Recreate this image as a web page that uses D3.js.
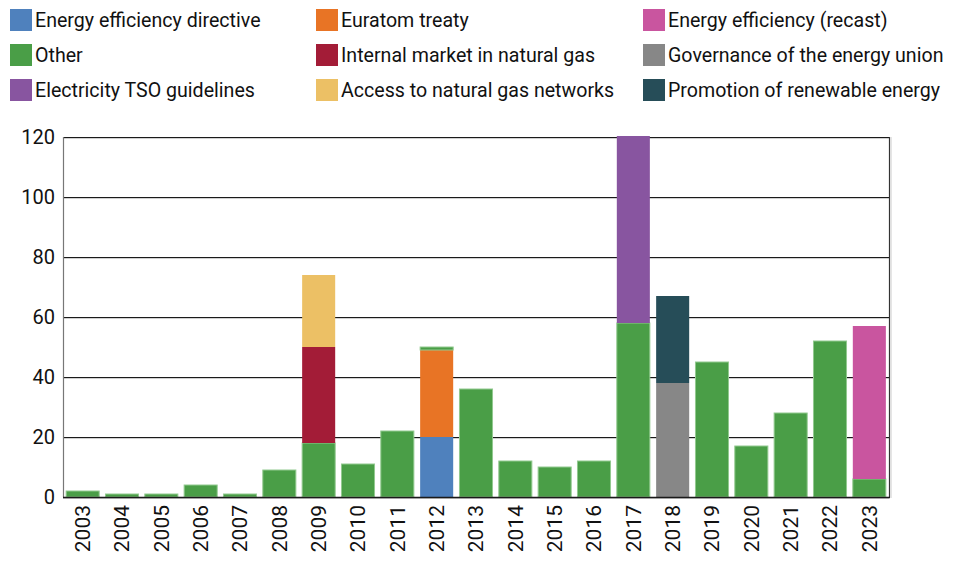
<!DOCTYPE html>
<html>
<head>
    <meta charset="UTF-8">
    <style>
        * { margin: 0; padding: 0; }
        body { background: #fff; width: 954px; height: 563px; overflow: hidden; }
        #chart { display: block; font-family: "Roboto", sans-serif; }
        .legend text { font-size: 19.6px; fill: #111; }
        .ytick text { font-size: 20px; fill: #111; }
        .xlab { font-size: 21px; fill: #111; }
    </style>
    <script src="https://d3js.org/d3.v7.min.js"></script>
    <title>Chart</title>
</head>
<body>
<svg id="chart" width="954" height="563"></svg>
<script>
    // years on the x axis
    var years = ["2003","2004","2005","2006","2007","2008","2009","2010","2011","2012",
                 "2013","2014","2015","2016","2017","2018","2019","2020","2021","2022","2023"];

    // one array per series, one value per year
    var eed       = [0,0,0,0,0,0, 0,0,0,20, 0,0,0,0, 0,0, 0,0,0,0, 0];
    var euratom   = [0,0,0,0,0,0, 0,0,0,29, 0,0,0,0, 0,0, 0,0,0,0, 0];
    var governance= [0,0,0,0,0,0, 0,0,0,0,  0,0,0,0, 0,38, 0,0,0,0, 0];
    var other     = [2,1,1,4,1,9,18,11,22,1,36,12,10,12,58,0,45,17,28,52, 6];
    var internal  = [0,0,0,0,0,0,32,0,0,0,  0,0,0,0, 0,0, 0,0,0,0, 0];
    var access    = [0,0,0,0,0,0,24,0,0,0,  0,0,0,0, 0,0, 0,0,0,0, 0];
    var tso       = [0,0,0,0,0,0, 0,0,0,0,  0,0,0,0,62,0, 0,0,0,0, 0];
    var promotion = [0,0,0,0,0,0, 0,0,0,0,  0,0,0,0, 0,29, 0,0,0,0, 0];
    var recast    = [0,0,0,0,0,0, 0,0,0,0,  0,0,0,0, 0,0, 0,0,0,0,51];

    var yTicks = [0, 20, 40, 60, 80, 100, 120];

    // stacking order (bottom to top)
    var series = [
        {key: "eed",        name: "Energy efficiency directive",   color: "#4f81bd", values: eed},
        {key: "euratom",    name: "Euratom treaty",                color: "#e87425", values: euratom},
        {key: "governance", name: "Governance of the energy union",color: "#878787", values: governance},
        {key: "other",      name: "Other",                         color: "#4a9e47", values: other},
        {key: "internal",   name: "Internal market in natural gas",color: "#a31c37", values: internal},
        {key: "access",     name: "Access to natural gas networks",color: "#ecc065", values: access},
        {key: "tso",        name: "Electricity TSO guidelines",    color: "#8855a0", values: tso},
        {key: "promotion",  name: "Promotion of renewable energy", color: "#264d58", values: promotion},
        {key: "recast",     name: "Energy efficiency (recast)",    color: "#c9559f", values: recast}
    ];

    // legend order as shown, column by column
    var legendCols = [
        ["eed", "other", "tso"],
        ["euratom", "internal", "access"],
        ["recast", "governance", "promotion"]
    ];

    var svg = d3.select("#chart");
    var mLeft = 63, mRight = 889, mTop = 137, mBottom = 497;

    var table = years.map(function (yr, i) {
        var row = {year: yr};
        series.forEach(function (s) { row[s.key] = s.values[i]; });
        return row;
    });

    var stack = d3.stack().keys(series.map(function (s) { return s.key; }));
    var stacked = stack(table);

    var x = d3.scaleBand().domain(years).range([mLeft, mRight])
        .paddingInner(0.16).paddingOuter(0.08);
    var y = d3.scaleLinear().domain([0, 120]).range([mBottom, mTop]);

    // grid lines
    var grid = svg.append("g");
    grid.selectAll("line.shadow")
        .data(yTicks)
        .enter().append("line")
        .attr("x1", mLeft).attr("x2", mRight)
        .attr("y1", function (d) { return y(d) + 1.5; })
        .attr("y2", function (d) { return y(d) + 1.5; })
        .attr("stroke", "#d0d0d0").attr("stroke-width", 1);
    grid.selectAll("line.main")
        .data(yTicks)
        .enter().append("line")
        .attr("x1", mLeft).attr("x2", mRight)
        .attr("y1", function (d) { return y(d) + 0.5; })
        .attr("y2", function (d) { return y(d) + 0.5; })
        .attr("stroke", "#1a1a1a").attr("stroke-width", 1.2);

    // frame
    svg.append("line")
        .attr("x1", mLeft + 0.5).attr("x2", mLeft + 0.5)
        .attr("y1", mTop).attr("y2", mBottom)
        .attr("stroke", "#777").attr("stroke-width", 1.2);
    svg.append("line")
        .attr("x1", mRight + 0.5).attr("x2", mRight + 0.5)
        .attr("y1", mTop).attr("y2", mBottom)
        .attr("stroke", "#333").attr("stroke-width", 1.2);
    svg.append("line")
        .attr("x1", mRight + 2).attr("x2", mRight + 2)
        .attr("y1", mTop).attr("y2", mBottom + 1)
        .attr("stroke", "#ddd").attr("stroke-width", 1.5);

    // bars
    var colorOf = {};
    series.forEach(function (s) { colorOf[s.key] = s.color; });

    svg.append("g").selectAll("g")
        .data(stacked)
        .enter().append("g")
        .attr("fill", function (d) { return colorOf[d.key]; })
        .attr("stroke", function (d) { return d.key === "other" ? "#92c98f" : "none"; })
        .selectAll("rect")
        .data(function (d) { return d.filter(function (p) { return p[1] > p[0]; }); })
        .enter().append("rect")
        .attr("x", function (d) { return x(d.data.year); })
        .attr("y", function (d) { return y(d[1]) - (d[1] >= 120 ? 1 : 0); })
        .attr("width", x.bandwidth())
        .attr("height", function (d) { return y(d[0]) - y(d[1]) + (d[1] >= 120 ? 1 : 0); });

    // bottom axis line on top of bars
    svg.append("line")
        .attr("x1", mLeft).attr("x2", mRight + 1)
        .attr("y1", mBottom + 0.5).attr("y2", mBottom + 0.5)
        .attr("stroke", "#1a1a1a").attr("stroke-width", 1.5);

    // y tick labels
    svg.append("g").attr("class", "ytick")
        .selectAll("text")
        .data(yTicks)
        .enter().append("text")
        .attr("x", 55)
        .attr("y", function (d) { return y(d); })
        .attr("dy", "0.35em")
        .attr("text-anchor", "end")
        .text(function (d) { return d; });

    // x labels, rotated
    svg.append("g")
        .selectAll("text")
        .data(years)
        .enter().append("text")
        .attr("class", "xlab")
        .attr("transform", function (d) {
            return "translate(" + (x(d) + x.bandwidth() / 2) + "," + (mBottom + 8) + ") rotate(-90)";
        })
        .attr("dy", "0.35em")
        .attr("text-anchor", "end")
        .text(function (d) { return d; });

    // legend
    var colX = [10, 316, 643];
    var rowY = [9, 44, 79];
    var byKey = {};
    series.forEach(function (s) { byKey[s.key] = s; });

    var lg = svg.append("g").attr("class", "legend");
    legendCols.forEach(function (col, ci) {
        col.forEach(function (k, ri) {
            var s = byKey[k];
            lg.append("rect")
                .attr("x", colX[ci]).attr("y", rowY[ri])
                .attr("width", 22).attr("height", 22)
                .attr("fill", s.color);
            lg.append("text")
                .attr("x", colX[ci] + 25).attr("y", rowY[ri] + 11)
                .attr("dy", "0.35em")
                .text(s.name);
        });
    });
</script>
</body>
</html>
